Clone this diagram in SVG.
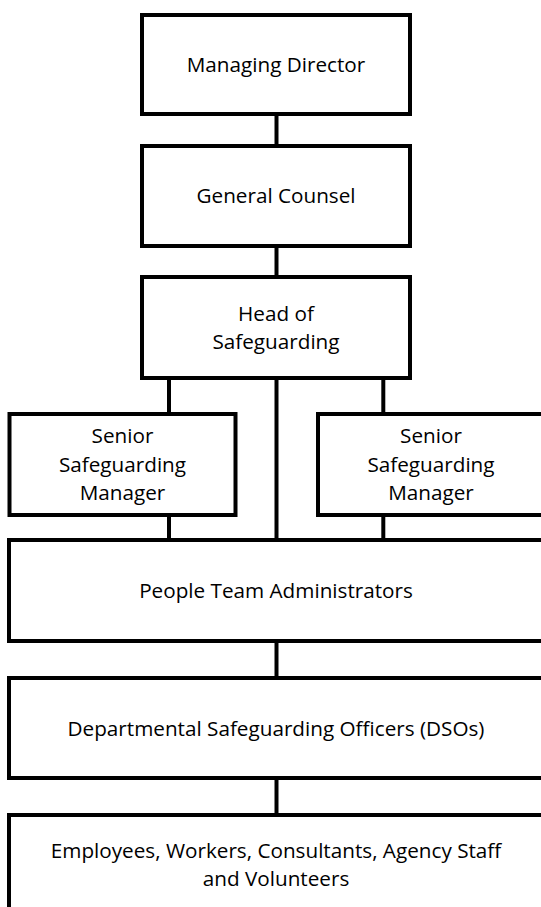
<svg xmlns="http://www.w3.org/2000/svg" width="541" height="907" viewBox="0 0 541 907">
<style>
.box{fill:#fff;stroke:#000;stroke-width:4}
.ln{stroke:#000;stroke-width:4;fill:none}
text{font-family:"Open Sans","Liberation Sans",sans-serif;font-size:20.7px;fill:#000;text-anchor:middle}
</style>
<rect width="541" height="907" fill="#fff"/>
<g id="connectors">
<line class="ln" x1="276.5" y1="114" x2="276.5" y2="146"/>
<line class="ln" x1="276.5" y1="246" x2="276.5" y2="277"/>
<line class="ln" x1="169" y1="378" x2="169" y2="414"/>
<line class="ln" x1="383.3" y1="378" x2="383.3" y2="414"/>
<line class="ln" x1="276.5" y1="378" x2="276.5" y2="540"/>
<line class="ln" x1="169" y1="515" x2="169" y2="540"/>
<line class="ln" x1="383.3" y1="515" x2="383.3" y2="540"/>
<line class="ln" x1="276.5" y1="641" x2="276.5" y2="678"/>
<line class="ln" x1="276.5" y1="778" x2="276.5" y2="815"/>
</g>
<g id="managing-director">
<rect class="box" x="142" y="15" width="268" height="99"/>
<text x="276" y="72">Managing Director</text>
</g>
<g id="general-counsel">
<rect class="box" x="142" y="146" width="268" height="100"/>
<text x="276" y="203">General Counsel</text>
</g>
<g id="head-of-safeguarding">
<rect class="box" x="142" y="277" width="268" height="101"/>
<text x="276" y="320.5">Head of</text>
<text x="276" y="349">Safeguarding</text>
</g>
<g id="senior-manager-left">
<rect class="box" x="9.5" y="414" width="226" height="101"/>
<text x="122.5" y="443.3">Senior</text>
<text x="122.5" y="471.7">Safeguarding</text>
<text x="122.5" y="500">Manager</text>
</g>
<g id="senior-manager-right">
<rect class="box" x="318" y="414" width="226" height="101"/>
<text x="431" y="443.3">Senior</text>
<text x="431" y="471.7">Safeguarding</text>
<text x="431" y="500">Manager</text>
</g>
<g id="people-team">
<rect class="box" x="9" y="540" width="535" height="101"/>
<text x="276" y="598">People Team Administrators</text>
</g>
<g id="dsos">
<rect class="box" x="9" y="678" width="535" height="100"/>
<text x="276" y="736">Departmental Safeguarding Officers (DSOs)</text>
</g>
<g id="employees">
<rect class="box" x="9" y="815" width="535" height="110"/>
<text x="276" y="857.5">Employees, Workers, Consultants, Agency Staff</text>
<text x="276" y="886">and Volunteers</text>
</g>
</svg>
